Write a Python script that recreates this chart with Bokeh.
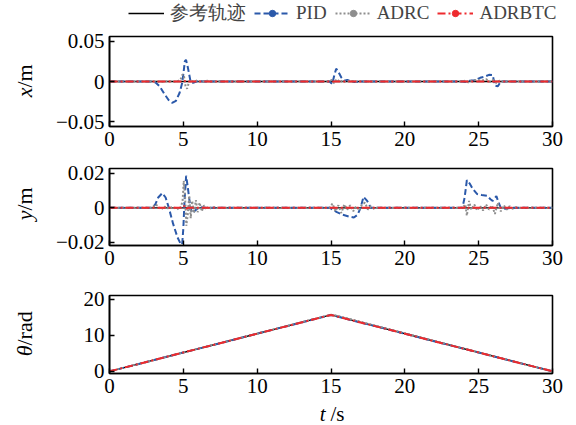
import math
from bokeh.plotting import figure
from bokeh.layouts import column, row
from bokeh.models import Range1d, FixedTicker, Legend, LegendItem, Label
from bokeh.embed import file_html
from bokeh.resources import INLINE

FONT = "Liberation Serif"
NAN = float("nan")

# ---------------- data (time in s) ----------------
x_ticks = [0, 5, 10, 15, 20, 25, 30]
x_tick_labels = ["0", "5", "10", "15", "20", "25", "30"]

series_names = ["参考轨迹", "PID", "ADRC", "ADRBTC"]

# x error (m)
ref_x = [(0, 0), (30, 0)]
pid_x = [(0, 0), (2.8, 0), (3.1, -0.001), (3.4, -0.006), (3.7, -0.015), (4.0, -0.023),
         (4.24, -0.0265), (4.5, -0.024), (4.75, -0.014), (4.92, -0.002), (5.02, 0.012),
         (5.1, 0.025), (5.18, 0.027), (5.3, 0.018), (5.48, 0.001), (5.6, -0.002),
         (5.75, -0.001), (6.0, 0.0005), (6.3, 0), (14.9, 0), (15.08, -0.003), (15.2, 0.006),
         (15.35, 0.016), (15.5, 0.012), (15.7, 0.005), (15.9, 0.001), (16.1, 0.002),
         (16.3, 0.0005), (16.6, -0.0005), (17.0, 0), (23.9, 0), (24.1, -0.0005),
         (24.4, 0.001), (24.7, 0.0015), (25.1, 0.0046), (25.4, 0.006), (25.7, 0.0083),
         (25.95, 0.008), (26.1, -0.005), (26.3, -0.006), (26.5, 0), (30, 0)]
adrc_x = [(0, 0), (3.0, 0), (3.5, -0.0008), (4.0, 0.0005), (4.5, -0.0005), (4.8, 0.002),
          (4.95, 0.009), (5.05, 0.006), (5.15, -0.006), (5.25, -0.009), (5.35, -0.003),
          (5.5, 0.002), (5.7, -0.001), (5.9, 0.0012), (6.2, -0.0006), (6.6, 0.0008),
          (7.0, -0.0004), (7.4, 0), (14.9, 0), (15.05, 0.002), (15.2, -0.002), (15.4, 0.003),
          (15.6, -0.001), (15.8, 0.0015), (16.0, -0.0008), (16.3, 0.001), (16.6, -0.0005),
          (17.0, 0.0003), (17.4, 0), (23.9, 0), (24.1, 0.001), (24.3, -0.001), (24.6, 0.0015),
          (24.9, 0.002), (25.2, 0.001), (25.5, 0.003), (25.8, -0.001), (26.0, 0.002),
          (26.2, -0.002), (26.4, 0.001), (26.7, -0.0005), (27.0, 0), (30, 0)]
adrbtc_x = [(0, 0), (4.9, 0), (5.05, 0.0015), (5.2, -0.001), (5.4, 0), (30, 0)]

# y error (m)
ref_y = [(0, 0), (30, 0)]
pid_y = [(0, 0), (2.9, 0), (3.1, 0.002), (3.3, 0.006), (3.57, 0.0085), (3.8, 0.006),
         (4.02, 0.0), (4.3, -0.009), (4.6, -0.017), (4.8, -0.0205), (4.92, -0.0212),
         (5.0, -0.012), (5.08, 0.004), (5.19, 0.0186), (5.3, 0.012), (5.48, 0.0),
         (5.6, -0.003), (5.8, -0.0015), (6.1, 0.0005), (6.5, 0), (14.95, 0), (15.1, -0.001),
         (15.4, -0.0025), (15.8, -0.004), (16.2, -0.005), (16.55, -0.0056), (16.8, -0.004),
         (17.0, 0.0), (17.2, 0.0064), (17.45, 0.004), (17.7, 0.0), (18.0, 0), (23.9, 0),
         (24.05, 0.006), (24.2, 0.016), (24.4, 0.014), (24.6, 0.011), (24.9, 0.008),
         (25.2, 0.0075), (25.58, 0.007), (25.8, 0.005), (25.95, 0.004), (26.2, 0.0068),
         (26.35, 0.003), (26.5, 0.0), (26.8, -0.0005), (27.2, 0), (30, 0)]
adrc_y = [(0, 0), (2.9, 0), (3.1, 0.002), (3.3, 0.001), (3.5, -0.001), (3.7, 0.001),
          (3.9, -0.0005), (4.1, 0.0008), (4.3, -0.0005), (4.5, 0.0004), (4.7, -0.001),
          (4.85, 0.001), (4.95, 0.004), (5.03, 0.0157), (5.12, 0.006), (5.2, -0.0104),
          (5.3, -0.004), (5.4, 0.007), (5.5, -0.006), (5.6, 0.004), (5.72, -0.003),
          (5.85, 0.0045), (5.97, -0.0025), (6.1, 0.003), (6.25, -0.002), (6.4, 0.0015),
          (6.55, -0.001), (6.7, 0.0008), (6.9, -0.0005), (7.1, 0.0004), (7.3, 0),
          (14.9, 0), (15.1, 0.0025), (15.3, -0.002), (15.5, 0.0015), (15.7, -0.003),
          (15.9, 0.002), (16.1, -0.001), (16.3, 0.0015), (16.5, -0.002), (16.7, 0.001),
          (16.9, -0.0015), (17.1, 0.002), (17.3, 0.003), (17.5, -0.001), (17.7, 0.001),
          (17.9, -0.0005), (18.1, 0), (23.9, 0), (24.1, 0.002), (24.2, -0.0045),
          (24.35, 0.004), (24.5, -0.001), (24.7, 0.002), (24.9, -0.0015), (25.1, 0.001),
          (25.3, -0.0015), (25.5, 0.002), (25.7, -0.001), (25.9, 0.0015), (26.1, -0.0035),
          (26.3, 0.003), (26.5, -0.002), (26.7, 0.0015), (26.9, -0.001), (27.1, 0.001),
          (27.3, -0.0005), (27.5, 0.0003), (27.8, 0), (30, 0)]
adrbtc_y = [(0, 0), (4.95, 0), (5.05, 0.0012), (5.15, -0.0008), (5.3, 0), (24.0, 0),
            (24.15, 0.001), (24.3, 0), (30, 0)]

# heading (rad)
ref_th = [(0, 0), (15, 15.7), (30, 0)]
pid_th = [(0, 0), (15, 15.7), (30, 0)]
adrc_th = [(0, 0), (15, 15.75), (15.4, 15.5), (30, 0)]
adrbtc_th = [(0, 0), (15, 15.7), (30, 0)]

x_yticks = [-0.05, 0, 0.05]
x_ytick_labels = ["\u22120.05", "0", "0.05"]
y_yticks = [-0.02, 0, 0.02]
y_ytick_labels = ["\u22120.02", "0", "0.02"]
th_yticks = [0, 10, 20]
th_ytick_labels = ["0", "10", "20"]

# ---------------- styles / layout ----------------
COL = {"ref": "black", "pid": "#2b59aa", "adrc": "#8e8e8e", "adrbtc": "#ee2a2e"}
STYLES = [
    dict(color=COL["ref"], line_width=1.3),
    dict(color=COL["pid"], line_width=2, line_dash="6 3"),
    dict(color=COL["adrc"], line_width=2, line_dash="2 2"),
    dict(color=COL["adrbtc"], line_width=2, line_dash="8 3 2 3"),
]
TOTAL_W, TOTAL_H = 576, 425
LEG_H = 30
STRIP_W = 50
W = TOTAL_W - STRIP_W
LEFT, RIGHT = 109 - STRIP_W, 24


def unzip(pairs):
    return [a for a, _ in pairs], [b for _, b in pairs]


def blank(width, height):
    p = figure(width=width, height=height, x_range=Range1d(0, 1), y_range=Range1d(0, 1),
               output_backend="svg", toolbar_location=None, x_axis_type=None,
               y_axis_type=None, min_border=0)
    p.grid.visible = False
    p.outline_line_color = None
    return p


def make_fig(height, yr, yticks, ylabels, top, bottom):
    p = figure(width=W, height=height, x_range=Range1d(0, 30), y_range=Range1d(*yr),
               output_backend="svg", toolbar_location=None,
               min_border_left=LEFT, min_border_right=RIGHT,
               min_border_top=top, min_border_bottom=bottom)
    p.grid.visible = False
    p.outline_line_color = "black"
    p.outline_line_width = 1.6
    for ax in (p.xaxis[0], p.yaxis[0]):
        ax.axis_line_width = 1.6
        ax.major_tick_in = 5
        ax.major_tick_out = 0
        ax.minor_tick_line_color = None
        ax.major_tick_line_width = 1.4
        ax.major_label_text_font = FONT
        ax.major_label_text_font_size = "21px"
        ax.major_label_text_color = "black"
        ax.major_label_standoff = 5
    p.xaxis.ticker = FixedTicker(ticks=x_ticks)
    p.xaxis.major_label_overrides = {t: s for t, s in zip(x_ticks, x_tick_labels)}
    p.yaxis.ticker = FixedTicker(ticks=yticks)
    p.yaxis.major_label_overrides = {t: s for t, s in zip(yticks, ylabels)}
    return p


def draw(p, data_list):
    for d, st in zip(data_list, STYLES):
        xs, ys = unzip(d)
        p.line(xs, ys, **st)


def two_part(p, first, second, sx, sy, angle, gap=0, size="22px"):
    p.add_layout(Label(x=sx, y=sy, x_units="screen", y_units="screen", text=first,
                       angle=angle, text_align="right", text_baseline="middle",
                       text_font=FONT, text_font_style="italic", text_font_size=size,
                       text_color="black"))
    p.add_layout(Label(x=sx + (0 if angle else gap), y=sy + (gap if angle else 0),
                       x_units="screen", y_units="screen", text=second, angle=angle,
                       text_align="left", text_baseline="middle", text_font=FONT,
                       text_font_size=size, text_color="black"))


# legend strip (full width)
p0 = blank(TOTAL_W, LEG_H)
lr = [p0.line([NAN], [NAN], **st) for st in STYLES]
mk = [p0.scatter([NAN], [NAN], size=5, color=COL[k]) for k in ("pid", "adrc", "adrbtc")]
items = [
    LegendItem(label=series_names[0], renderers=[lr[0]]),
    LegendItem(label=series_names[1], renderers=[lr[1], mk[0]]),
    LegendItem(label=series_names[2], renderers=[lr[2], mk[1]]),
    LegendItem(label=series_names[3], renderers=[lr[3], mk[2]]),
]
leg = Legend(items=items, orientation="horizontal", location=(128, 4),
             glyph_width=36, glyph_height=16, label_standoff=6, spacing=8,
             padding=0, margin=0, border_line_color=None, background_fill_alpha=0,
             label_text_font=FONT, label_text_font_size="19px", label_height=18)
p0.add_layout(leg)

p1 = make_fig(127, (-0.056, 0.056), x_yticks, x_ytick_labels, 6, 31)
draw(p1, [ref_x, pid_x, adrc_x, adrbtc_x])

p2 = make_fig(119, (-0.0218, 0.0228), y_yticks, y_ytick_labels, 11, 31)
draw(p2, [ref_y, pid_y, adrc_y, adrbtc_y])

p3 = make_fig(127, (-0.6, 21.1), th_yticks, th_ytick_labels, 19, 30)
draw(p3, [ref_th, pid_th, adrc_th, adrbtc_th])

# x-axis title strip
p4 = blank(W, TOTAL_H - LEG_H - 127 - 119 - 127)
two_part(p4, "t", "/s", 216, 12, 0, gap=5, size="21px")

# y-axis title strip, screen y measured up from the page bottom
ps = blank(STRIP_W, TOTAL_H - LEG_H)
two_part(ps, "x", "/m", 24, TOTAL_H - 87, math.pi / 2)
two_part(ps, "y", "/m", 24, TOTAL_H - 210, math.pi / 2)
two_part(ps, "\u03b8", "/rad", 24, TOTAL_H - 345, math.pi / 2)

layout = column(p0, row(ps, column(p1, p2, p3, p4, spacing=0), spacing=0), spacing=0)
open("out.html", "w").write(file_html(layout, INLINE))
